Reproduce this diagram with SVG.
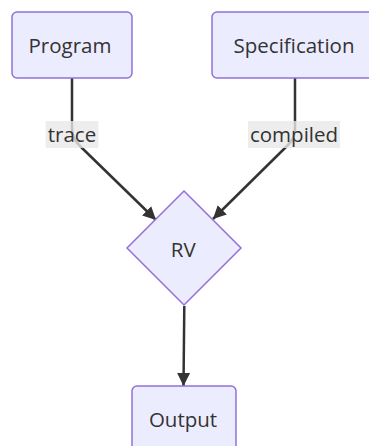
<svg xmlns="http://www.w3.org/2000/svg" width="369" height="446" viewBox="0 0 369 446">
<style>
.node rect,.node polygon{fill:#ECECFF;stroke:#9370DB;stroke-width:1.5}
text{font-family:"Open Sans","Liberation Sans",sans-serif;font-size:20.5px;fill:#333;text-anchor:middle}
.edge{fill:none;stroke:#333;stroke-width:2.5}
.lbl{fill:#e8e8e8;opacity:0.8}
</style>
<defs>
<marker id="arr" viewBox="0 0 10 10" refX="10" refY="5" markerWidth="13" markerHeight="14" markerUnits="userSpaceOnUse" orient="auto">
<path d="M0,0 L10,5 L0,10 z" fill="#333"/>
</marker>
</defs>
<rect width="369" height="446" fill="#fff"/>
<g id="connectors">
<path class="edge" d="M72,78 L72,128 C72,138 76,142 82,148 L156,220" marker-end="url(#arr)"/>
<path class="edge" d="M295,78 L295,128 C295,138 291,142 285,148 L213,219" marker-end="url(#arr)"/>
<path class="edge" d="M184.3,306 L183.5,386" marker-end="url(#arr)"/>
<rect class="lbl" x="45.7" y="121" width="52.6" height="27"/>
<text x="72" y="141.5">trace</text>
<rect class="lbl" x="248" y="121" width="92" height="27"/>
<text x="294" y="141.5">compiled</text>
</g>
<g id="Program" class="node">
<rect x="12" y="12" width="120" height="66" rx="5"/>
<text x="70" y="53.3">Program</text>
</g>
<g id="Specification" class="node">
<rect x="212" y="12" width="164" height="66" rx="5"/>
<text x="294" y="53.3">Specification</text>
</g>
<g id="RV" class="node">
<polygon points="184,191 241,248 184,305 127,248"/>
<text x="183.3" y="257.3">RV</text>
</g>
<g id="Output" class="node">
<rect x="132" y="386" width="104" height="66" rx="5"/>
<text x="183" y="427">Output</text>
</g>
</svg>
